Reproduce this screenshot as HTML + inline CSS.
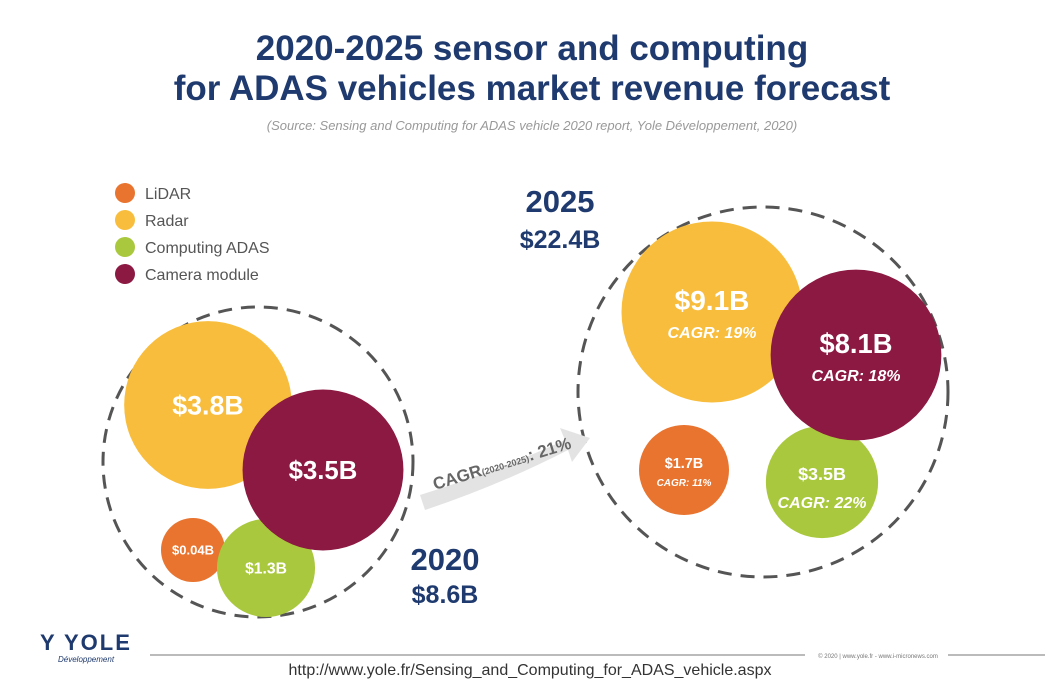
<!DOCTYPE html>
<html><head><meta charset="utf-8"><style>
body{margin:0;background:#fff;width:1063px;height:690px;overflow:hidden}
svg{display:block;font-family:"Liberation Sans",sans-serif}
</style></head><body>
<svg id="chart" width="1063" height="690" viewBox="0 0 1063 690">
<text x="532" y="60" text-anchor="middle" font-size="35" font-weight="bold" fill="#1f3a6e">2020-2025 sensor and computing</text>
<text x="532" y="100" text-anchor="middle" font-size="35" font-weight="bold" fill="#1f3a6e">for ADAS vehicles market revenue forecast</text>
<text x="532" y="130" text-anchor="middle" font-size="13" font-style="italic" fill="#999">(Source: Sensing and Computing for ADAS vehicle 2020 report, Yole Développement, 2020)</text>
<g id="legend"></g>
<circle cx="258" cy="462" r="155" fill="none" stroke="#555" stroke-width="3" stroke-dasharray="14 9"/>
<circle cx="763" cy="392" r="185" fill="none" stroke="#555" stroke-width="3" stroke-dasharray="14 9"/>
<g id="bubbles"></g>
<path d="M420 495 Q500 470 565 440 L560 428 L590 438 L572 462 L568 450 Q500 485 425 510 Z" fill="#e3e3e3"/>
<text x="435" y="490" font-size="17" font-weight="bold" fill="#666" transform="rotate(-17 435 490)">CAGR<tspan font-size="9">(2020-2025)</tspan>: 21%</text>
<text x="560" y="212" text-anchor="middle" font-size="31" font-weight="bold" fill="#1f3a6e">2025</text>
<text x="560" y="248" text-anchor="middle" font-size="25" font-weight="bold" fill="#1f3a6e">$22.4B</text>
<text x="445" y="570" text-anchor="middle" font-size="31" font-weight="bold" fill="#1f3a6e">2020</text>
<text x="445" y="603" text-anchor="middle" font-size="25" font-weight="bold" fill="#1f3a6e">$8.6B</text>
<line x1="150" y1="655" x2="805" y2="655" stroke="#bbb" stroke-width="2"/>
<line x1="948" y1="655" x2="1045" y2="655" stroke="#bbb" stroke-width="2"/>
<text x="40" y="650" font-size="22" font-weight="bold" fill="#1f3a6e" letter-spacing="2">Y YOLE</text>
<text x="58" y="662" font-size="8" font-style="italic" fill="#1f3a6e">Développement</text>
<text x="878" y="658" text-anchor="middle" font-size="6" fill="#777">© 2020 | www.yole.fr - www.i-micronews.com</text>
<text x="530" y="675" text-anchor="middle" font-size="16" fill="#333">http://www.yole.fr/Sensing_and_Computing_for_ADAS_vehicle.aspx</text>
</svg>
<script>
const categories=["LiDAR","Radar","Computing ADAS","Camera module"];
const colors=["#e8742f","#f8bd3c","#a9c83d","#8b1941"];
const values2020=[0.04,3.8,1.3,3.5];
const values2025=[1.7,9.1,3.5,8.1];
const cagr2025=["11%","19%","22%","18%"];
const labels2020=["$0.04B","$3.8B","$1.3B","$3.5B"];
const labels2025=["$1.7B","$9.1B","$3.5B","$8.1B"];
const NS="http://www.w3.org/2000/svg";
function mk(t,a,p){const e=document.createElementNS(NS,t);for(const k in a)e.setAttribute(k,a[k]);p.appendChild(e);return e;}
const leg=document.getElementById('legend');
categories.forEach((c,i)=>{
 const y=193+i*27;
 const d=mk('circle',{cx:125,cy:y,r:10,fill:colors[i]},leg);
 
 
 const t=mk('text',{x:145,y:y+6,'font-size':16,fill:'#555'},leg);t.textContent=c;
 
 
});
const g=document.getElementById('bubbles');
const pos2020=[[193,550],[208,405],[266,568],[323,470]];
const pos2025=[[684,470],[712,312],[822,482],[856,355]];
function rad(v,k,min){return Math.max(min,k*Math.sqrt(v));}
function draw(vals,labs,pos,k,min,cagr){
 vals.forEach((v,i)=>{
  const r=rad(v,k,min);
  const c=mk('circle',{cx:pos[i][0],cy:pos[i][1],r:r,fill:colors[i]},g);
  
  
  const fs=Math.max(13,Math.min(28,r*0.32));
  const t=mk('text',{x:pos[i][0],y:pos[i][1]+(cagr?-2:fs*0.35),'text-anchor':'middle','font-size':fs,'font-weight':'bold',fill:'#fff'},g);
  t.textContent=labs[i];
  
  
  if(cagr){
   const s=mk('text',{x:pos[i][0],y:pos[i][1]+(r>50?26:16),'text-anchor':'middle','font-size':r>50?16:10,'font-weight':'bold','font-style':'italic',fill:'#fff'},g);
   s.textContent='CAGR: '+cagr[i];
   
   
  }
 });
}
draw(values2020,labels2020,pos2020,43,32,null);
draw(values2025,labels2025,pos2025,30,45,cagr2025);
</script>
</body></html>
